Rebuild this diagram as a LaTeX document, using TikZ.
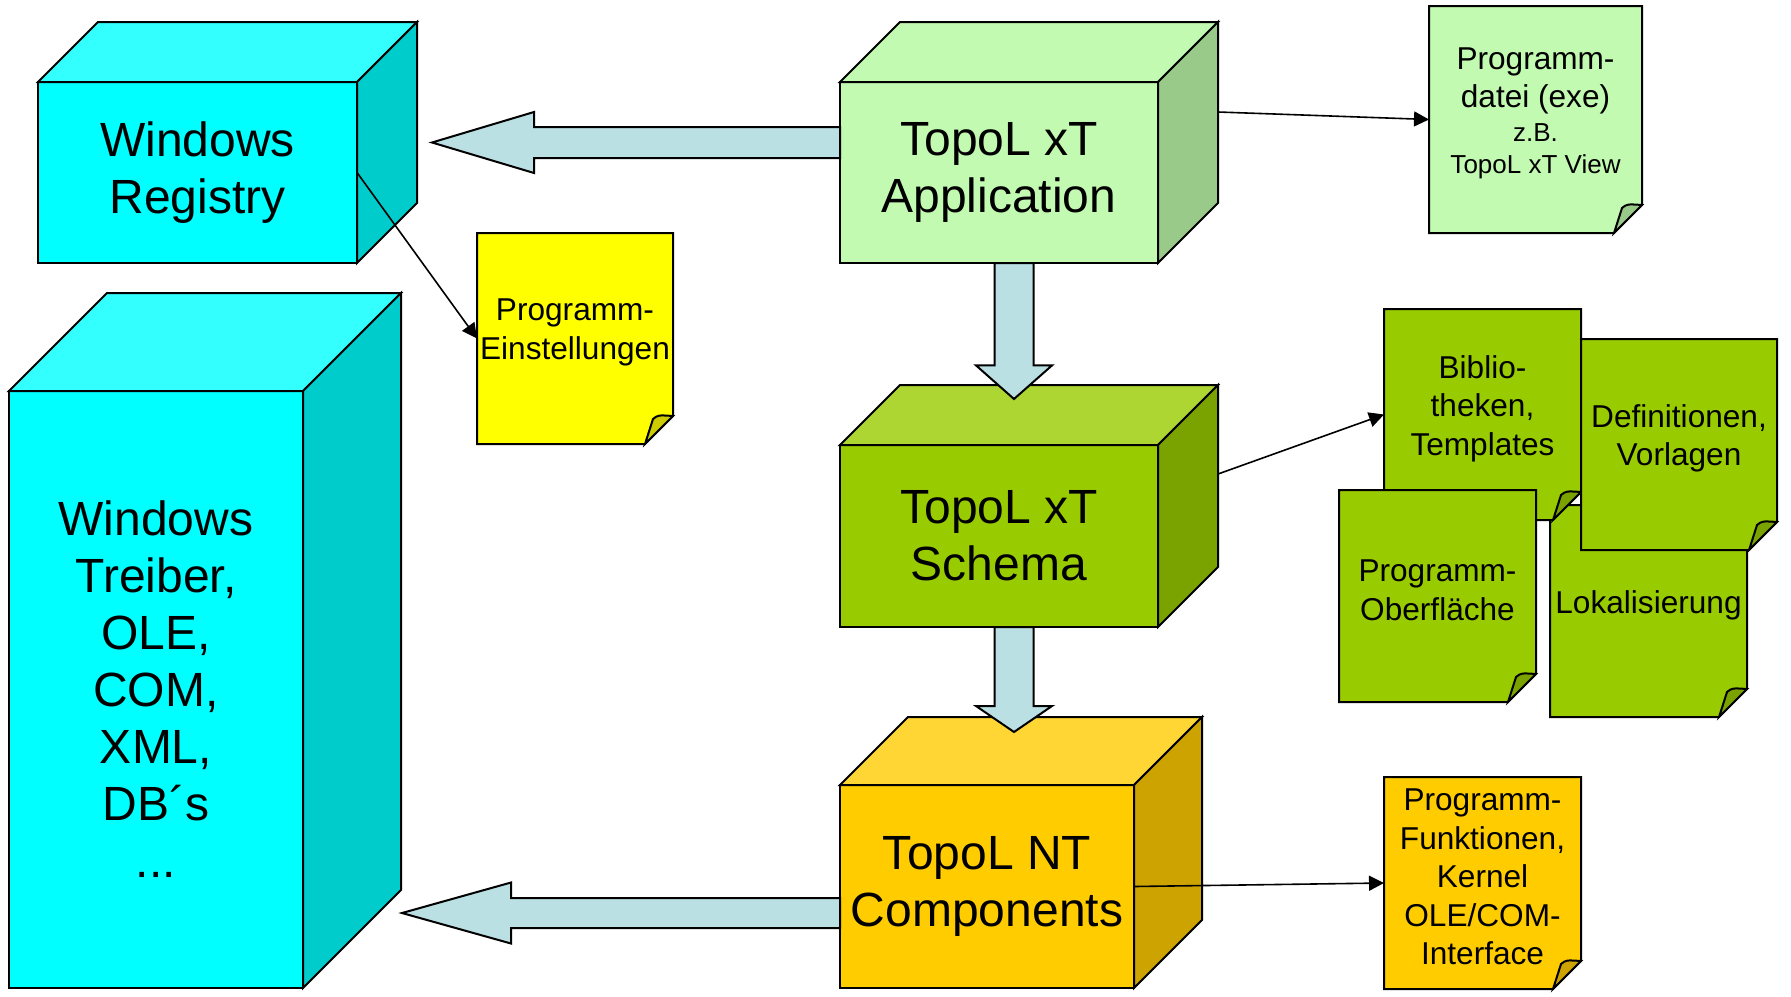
\documentclass[tikz,border=0pt]{standalone}
\usepackage{fontspec}
\setmainfont{Liberation Sans}
\usetikzlibrary{calc,arrows.meta}

\definecolor{cyanfront}{HTML}{00FFFF}
\definecolor{cyantop}{HTML}{33FFFF}
\definecolor{cyanside}{HTML}{00CCCC}
\definecolor{appfront}{HTML}{C2FAB2}
\definecolor{appside}{HTML}{9ACA8A}
\definecolor{schemafront}{HTML}{99CC00}
\definecolor{schematop}{HTML}{ADD633}
\definecolor{schemaside}{HTML}{7AA300}
\definecolor{compfront}{HTML}{FFCC00}
\definecolor{comptop}{HTML}{FFD633}
\definecolor{compside}{HTML}{CCA300}
\definecolor{notizgelb}{HTML}{FFFF00}
\definecolor{faltgelb}{HTML}{CCCC00}
\definecolor{pfeilblau}{HTML}{BBE0E3}

\newcommand{\kiste}[8]{%
 \path let \p1=(#2), \p2=(#3) in
   node[kiste, fill=#5, minimum width={\x2-\x1}, minimum height={\y1-\y2}] (#1) at ($(#2)!0.5!(#3)$) {#8};
 \filldraw[fill=#6] (#1.north west) -- ++(#4,-#4) -- ($(#1.north east)+(#4,-#4)$) -- (#1.north east) -- cycle;
 \filldraw[fill=#7] (#1.north east) -- ++(#4,-#4) -- ($(#1.south east)+(#4,-#4)$) -- (#1.south east) -- cycle;
}

\newcommand{\notiz}[6]{%
 \path let \p1=(#2), \p2=(#3) in
   node[notizrahmen, minimum width={\x2-\x1}, minimum height={\y1-\y2}] (#1) at ($(#2)!0.5!(#3)$) {};
 \filldraw[fill=#4] (#1.north west) -- (#1.north east) -- ($(#1.south east)+(0,-28)$) -- ($(#1.south east)+(-28,0)$) -- (#1.south west) -- cycle;
 \filldraw[fill=#5] ($(#1.south east)+(-28,0)$) -- ($(#1.south east)+(-20,-25)$) .. controls ($(#1.south east)+(-15,-29)$) .. ($(#1.south east)+(0,-28)$) -- cycle;
 \node[notiztext] (#1t) at ($(#1.center)+(0,-6)$) {#6};
}

\newcommand{\blockpfeil}[5]{%
 \coordinate (bph) at ($(#2)!#5!(#1)$);
 \draw[blockpfeil] ($(#1)!#3!90:(#2)$) -- ($(bph)!#3!90:(#2)$) -- ($(bph)!#4!90:(#2)$) -- (#2)
   -- ($(bph)!#4!-90:(#2)$) -- ($(bph)!#3!-90:(#2)$) -- ($(#1)!#3!-90:(#2)$) -- cycle;
}

\begin{document}
\begin{tikzpicture}[x=0.5pt,y=-0.5pt,line width=1pt,line join=miter,
 kiste/.style={draw,inner sep=0pt,outer sep=0pt,align=center,font=\fontsize{24}{28.5}\selectfont},
 notizrahmen/.style={inner sep=0pt,outer sep=0pt},
 notiztext/.style={inner sep=0pt,align=center,font=\fontsize{15.8}{19.3}\selectfont},
 blockpfeil/.style={draw,fill=pfeilblau},
 pfeil/.style={-{Triangle[length=7.5pt,width=7.5pt]},line width=0.8pt}]
\useasboundingbox (0,0) rectangle (1791,996);

\kiste{reg}{38,82}{357,263}{60}{cyanfront}{cyantop}{cyanside}{Windows\\Registry}
\kiste{treiber}{9,391}{303,988}{98}{cyanfront}{cyantop}{cyanside}{Windows\\Treiber,\\OLE,\\COM,\\XML,\\DB´s\\...}
\kiste{app}{840,82}{1158,263}{60}{appfront}{appfront}{appside}{TopoL xT\\Application}
\kiste{schema}{840,445}{1158,627}{60}{schemafront}{schematop}{schemaside}{TopoL xT\\Schema}
\kiste{comp}{840,785}{1134,988}{68}{compfront}{comptop}{compside}{TopoL NT\\Components}

\notiz{einst}{477,233}{673,444}{notizgelb}{faltgelb}{Programm-\\Einstellungen}
\notiz{exe}{1429,6}{1642,233}{appfront}{appside}{Programm-\\datei (exe)\\[-2.3pt]{\fontsize{13}{16}\selectfont z.B.}\\[-3.3pt]{\fontsize{13}{16}\selectfont TopoL xT View}}
\notiz{lokal}{1550,505}{1747,717}{schemafront}{schemaside}{Lokalisierung}
\notiz{biblio}{1384,309}{1581,520}{schemafront}{schemaside}{Biblio-\\theken,\\Templates}
\notiz{defin}{1581,339}{1777,550}{schemafront}{schemaside}{Definitionen,\\Vorlagen}
\notiz{oberfl}{1339,490}{1536,702}{schemafront}{schemaside}{Programm-\\Oberfläche}
\notiz{funk}{1384,777}{1581,989}{compfront}{compside}{Programm-\\Funktionen,\\Kernel\\OLE/COM-\\Interface}

\coordinate (p1a) at ($(app.north west)+(0,60.5)$);
\coordinate (p1b) at ($(reg.north east)+(75,60.5)$);
\blockpfeil{p1a}{p1b}{7.75pt}{15.25pt}{51pt}
\coordinate (p2a) at ($(app.south west)+(174,0)$);
\coordinate (p2b) at ($(schema.north west)+(174,-46)$);
\blockpfeil{p2a}{p2b}{9.75pt}{19pt}{16.8pt}
\coordinate (p3a) at ($(schema.south west)+(174,0)$);
\coordinate (p3b) at ($(comp.north west)+(174,-53)$);
\blockpfeil{p3a}{p3b}{9.75pt}{19pt}{13pt}
\coordinate (p4a) at ($(comp.west)+(0,26.5)$);
\coordinate (p4b) at ($(p4a -| treiber.east)+(99,0)$);
\blockpfeil{p4a}{p4b}{7.5pt}{15.25pt}{54.5pt}

\draw[pfeil] ($(app.north east)+(60,30)$) -- (exe.west);
\draw[pfeil] (reg.east) -- (einst.west);
\draw[pfeil] ($(schema.north east)+(60,29)$) -- (biblio.west);
\draw[pfeil] (comp.east) -- (funk.west);
\end{tikzpicture}
\end{document}
